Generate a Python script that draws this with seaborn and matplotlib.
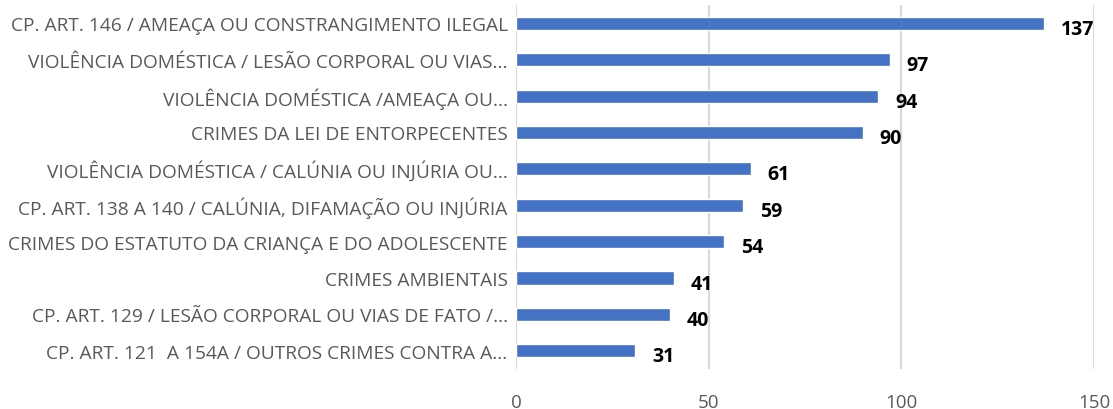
import seaborn as sns
import matplotlib.pyplot as plt
import pandas as pd

categories = [
    "CP. ART. 146 / AMEAÇA OU CONSTRANGIMENTO ILEGAL",
    "VIOLÊNCIA DOMÉSTICA / LESÃO CORPORAL OU VIAS...",
    "VIOLÊNCIA DOMÉSTICA /AMEAÇA OU...",
    "CRIMES DA LEI DE ENTORPECENTES",
    "VIOLÊNCIA DOMÉSTICA / CALÚNIA OU INJÚRIA OU...",
    "CP. ART. 138 A 140 / CALÚNIA, DIFAMAÇÃO OU INJÚRIA",
    "CRIMES DO ESTATUTO DA CRIANÇA E DO ADOLESCENTE",
    "CRIMES AMBIENTAIS",
    "CP. ART. 129 / LESÃO CORPORAL OU VIAS DE FATO /...",
    "CP. ART. 121  A 154A / OUTROS CRIMES CONTRA A...",
]
values = [137, 97, 94, 90, 61, 59, 54, 41, 40, 31]
x_ticks = [0, 50, 100, 150]

df = pd.DataFrame({"categoria": categories, "total": values})

sns.set_theme(style="white")
plt.rcParams['font.family'] = ['Open Sans', 'DejaVu Sans']

fig = plt.figure(figsize=(11.13, 4.10), dpi=100)
ax = fig.add_axes([0.4636, 0.0976, 0.5194, 0.8874])

sns.barplot(data=df, x="total", y="categoria", color="#4472C4",
            saturation=1, width=0.36, ax=ax, zorder=3)

ax.set_xlim(0, 150)
ax.set_xticks(x_ticks)
ax.set_ylim(len(categories) - 0.5, -0.5)
ax.set_xlabel("")
ax.set_ylabel("")
ax.grid(axis="x", color="#d9d9d9", linewidth=1.5, zorder=0)
for s in ax.spines.values():
    s.set_visible(False)
ax.tick_params(axis="x", length=0, pad=17, labelsize=13.5, labelcolor="#595959")
ax.tick_params(axis="y", length=0, pad=6, labelsize=13.8, labelcolor="#595959")

for i, v in enumerate(values):
    ax.annotate(str(v), (v, i), xytext=(12, -4), textcoords="offset points",
                ha="left", va="center", fontsize=14, fontweight="bold",
                color="black")

fig.savefig("out.png", dpi=100)
